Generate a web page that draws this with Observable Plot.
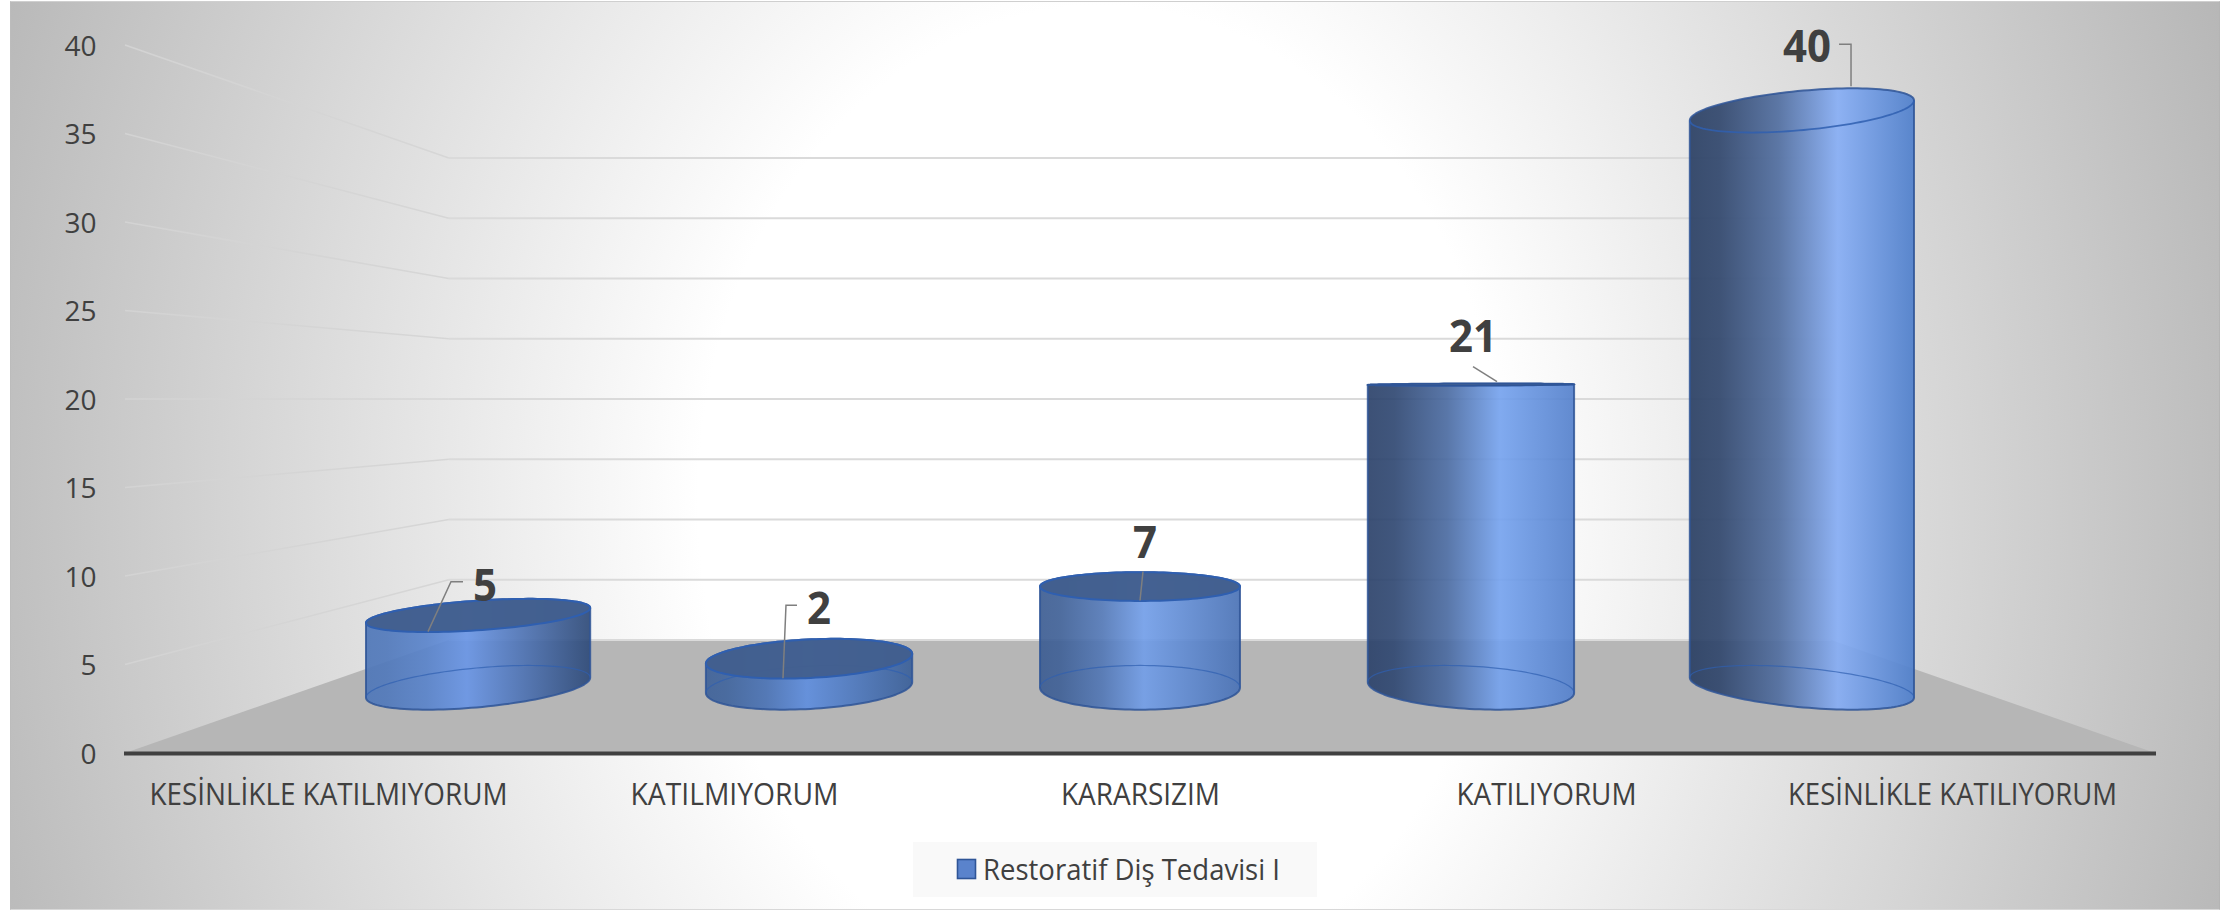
<!DOCTYPE html>
<html lang="tr">
<head>
<meta charset="utf-8">
<script src="https://cdn.jsdelivr.net/npm/d3@7"></script>
<script src="https://cdn.jsdelivr.net/npm/@observablehq/plot@0.6"></script>
<style>
html,body{margin:0;padding:0;background:#fff;overflow:hidden}
#page{position:relative;width:2234px;height:912px;background:#fff}
#bg{position:absolute;left:10px;top:1px;width:2210px;height:909px;box-sizing:border-box;border-left:1px solid #bcbcbc;border-right:1px solid #b4b4b4;border-top:1px solid #cfcfcf;border-bottom:1px solid #d8d8d8;
background:radial-gradient(ellipse 1220px 1500px at 1090px 499px,#fff 33%,#b4b4b4 100%)}
#chart{position:absolute;left:0;top:0}
#legend{position:absolute;left:0;top:835px;width:2234px;height:77px}
</style>
</head>
<body>
<div id="page"><div id="bg"></div><div id="chart"></div>
<svg id="legend" width="2234" height="77" viewBox="0 835 2234 77">
<rect x="913" y="842" width="404" height="55" fill="#f8f8f8" fill-opacity="0.85"></rect>
<rect x="957.5" y="859.5" width="18" height="19" fill="#5a83cc" stroke="#2f5597" stroke-width="1.6"></rect>
<text id="legendText" x="983" y="880" font-family="Open Sans" font-size="30" fill="#404040" textLength="297" lengthAdjust="spacingAndGlyphs"></text>
</svg>
</div>
<script>
const categories = ["KESİNLİKLE KATILMIYORUM", "KATILMIYORUM", "KARARSIZIM", "KATILIYORUM", "KESİNLİKLE KATILIYORUM"];
const values = [5, 2, 7, 21, 40];
const yTicks = [0, 5, 10, 15, 20, 25, 30, 35, 40];
const seriesName = "Restoratif Diş Tedavisi I";

// styling only: label widths, body shading and leader offsets per cylinder
const labelWidths = [358, 208, 159, 180, 329];
const shadeStops = [0.45, 0.49, 0.52, 0.64, 0.66];
const shadeLeft = ["#4f77b8", "#3f6299", "#3d5d92", "#2c426a", "#2a3f63"];
const shadeMid = ["#6a96e6", "#5f8ede", "#729ee8", "#76a3ee", "#87aef5"];
const shadeRight = ["#2e4a78", "#3a5f98", "#4a72b5", "#5581cc", "#4f7fcb"];
const labelOffsets = [[3, -29], [8, -49], [5, -44], [4, -49], [9, -66]];
const leaderOffsets = [
  [[-19, -32.5], [-31, -32.5], [-54, 17.5]],
  [[-14, -52], [-25, -52], [-28, 21]],
  [[3, -14], [0, 15]],
  [[4, -18], [28, -3]],
  [[41, -68], [53, -68], [53, -26]]
];

const rows = categories.map((category, i) => ({category, value: values[i], i}));

// perspective set-up shared by all layers
const eyeLevel = 20, backScale = 0.681, depthA = 1.234, depthB = 0.0945, radiusShare = 0.303;
function view(scales) {
  const x0 = scales.x(categories[0]);
  const band = scales.x(categories[1]) - x0;
  const left = x0, right = x0 + band * categories.length;
  const vx = (left + right) / 2, vy = scales.y(eyeLevel);
  const at = (fx, v, s) => [vx + (fx - vx) * s, vy + (scales.y(v) - vy) * s];
  return {band, left, right, vx, vy, at};
}
const line = d3.line();

function wallsAndFloor(index, scales) {
  const {left, right, at} = view(scales);
  const g = d3.create("svg:g");
  const bl = at(left, 0, backScale), br = at(right, 0, backScale);
  const grad = g.append("defs").append("linearGradient")
    .attr("id", "sideFade").attr("gradientUnits", "userSpaceOnUse")
    .attr("x1", left).attr("x2", bl[0]).attr("y1", 0).attr("y2", 0);
  grad.append("stop").attr("offset", 0).attr("stop-color", "#d3d3d3");
  grad.append("stop").attr("offset", 1).attr("stop-color", "#d6d6d6");
  g.append("path")
    .attr("d", line([at(left, 0, 1), at(right, 0, 1), br, bl]) + "Z")
    .attr("fill", "#b6b6b6");
  for (const v of yTicks) {
    const a = at(left, v, backScale), b = at(right, v, backScale);
    g.append("path").attr("d", line([a, b])).attr("stroke", "#dadada").attr("stroke-width", 2).attr("fill", "none");
    if (v > 0) g.append("path").attr("d", line([at(left, v, 1), a])).attr("stroke", "url(#sideFade)").attr("stroke-width", 1.6).attr("fill", "none");
  }
  return g.node();
}

function cylinders(index, scales) {
  const {band, vx, vy} = view(scales);
  const R = band * radiusShare;
  const g = d3.create("svg:g");
  const defs = g.append("defs");
  for (const k of index) {
    const d = rows[k];
    const wx = scales.x(d.category) + band / 2 - vx;
    const s = (t) => 1 / (depthA + depthB * Math.sin(t));
    const point = (t, v) => [vx + (wx + R * Math.cos(t)) * s(t), vy + (scales.y(v) - vy) * s(t)];
    // find silhouette parameters
    const N = 360;
    let tL = 0, tR = 0, minX = Infinity, maxX = -Infinity;
    for (let n = 0; n < N; ++n) {
      const t = n / N * 2 * Math.PI, px = point(t, 0)[0];
      if (px < minX) { minX = px; tL = t; }
      if (px > maxX) { maxX = px; tR = t; }
    }
    const arc = (t0, t1, v) => d3.range(0, 65).map((n) => point(t0 + (t1 - t0) * n / 64, v));
    const tRb = tR > Math.PI ? tR - 2 * Math.PI : tR;  // right end for the back arc (from tRb up to tL)
    const tRf = tRb + 2 * Math.PI;                     // right end for the front arc (from tL up to tRf)
    const frontB = arc(tL, tRf, 0);
    const capOuter = d.value < eyeLevel ? arc(tRb, tL, d.value) : arc(tRf, tL, d.value);
    const id = "body" + k;
    const lg = defs.append("linearGradient").attr("id", id).attr("gradientUnits", "userSpaceOnUse")
      .attr("x1", minX).attr("x2", maxX).attr("y1", 0).attr("y2", 0);
    const mix = d3.interpolateRgb(shadeLeft[k], shadeMid[k]);
    const stops = [[0, shadeLeft[k]], [shadeStops[k] * 0.2, mix(0.06)], [shadeStops[k] * 0.6, mix(0.42)], [shadeStops[k], shadeMid[k]], [1, shadeRight[k]]];
    for (const [o, c] of stops) lg.append("stop").attr("offset", o).attr("stop-color", c);
    // body
    g.append("path").attr("d", line([...frontB, ...capOuter]) + "Z")
      .attr("fill", `url(#${id})`).attr("fill-opacity", 0.92)
      .attr("stroke", "#2f5597").attr("stroke-width", 2).attr("stroke-opacity", 0.85).attr("stroke-linejoin", "round");
    // hidden back of the base ellipse, seen through the body
    g.append("path").attr("d", line(arc(tRb, tL, 0))).attr("fill", "none").attr("stroke", "#2f5fb0").attr("stroke-opacity", 0.7).attr("stroke-width", 1.2);
    // cap
    const cap = line([...arc(tL, tRf, d.value), ...arc(tRb, tL, d.value)]) + "Z";
    if (d.value < eyeLevel) {
      g.append("path").attr("d", cap).attr("fill", "#425f8e").attr("fill-opacity", 0.97).attr("stroke", "#2f5fb0").attr("stroke-width", 2);
    } else {
      g.append("path").attr("d", line(arc(tRb, tL, d.value)))
        .attr("fill", "none").attr("stroke", "#2f5fb0").attr("stroke-opacity", 0.85).attr("stroke-width", 1.8);
      if (d.value <= eyeLevel + 2) g.append("path").attr("d", cap).attr("fill", "#425f8e").attr("fill-opacity", 0.9).attr("stroke", "#2f5597").attr("stroke-width", 1.5);
    }
    // value label + leader
    const cx = vx + wx / depthA, cy = vy + (scales.y(d.value) - vy) / depthA;
    g.append("path").attr("d", line(leaderOffsets[k].map(([a, b]) => [cx + a, cy + b])))
      .attr("fill", "none").attr("stroke", "#7f7f7f").attr("stroke-width", 1.5);
    const label = String(d.value);
    g.append("text").attr("x", cx + labelOffsets[k][0]).attr("y", cy + labelOffsets[k][1]).attr("dy", "0.36em")
      .attr("text-anchor", "middle").attr("font-weight", 700).attr("font-size", 45).attr("fill", "#404040")
      .attr("textLength", label.length * 24).attr("lengthAdjust", "spacingAndGlyphs")
      .text(label);
  }
  return g.node();
}

const chart = Plot.plot({
  width: 2234,
  height: 835,
  marginLeft: 124,
  marginRight: 78,
  marginTop: 45,
  marginBottom: 82,
  style: {fontFamily: "Open Sans", background: "transparent", color: "#404040"},
  x: {type: "band", domain: categories, padding: 0, label: null},
  y: {type: "linear", domain: [0, 40], label: null},
  marks: [
    Plot.ruleY(yTicks, {render: wallsAndFloor}),
    Plot.barY(rows, {x: "category", y: "value", render: cylinders}),
    Plot.ruleY([0], {stroke: "#404040", strokeWidth: 4}),
    Plot.axisY({ticks: yTicks, tickSize: 0, tickPadding: 28, fontSize: 28, dy: 1.5, label: null, tickFormat: (d) => String(d)}),
    Plot.axisX({tickSize: 0, tickPadding: 29, fontSize: 31, label: null})
  ]
});
document.getElementById("chart").appendChild(chart);
chart.querySelectorAll('[aria-label="x-axis tick label"] text').forEach((t, i) => {
  t.setAttribute("textLength", labelWidths[i]);
  t.setAttribute("lengthAdjust", "spacingAndGlyphs");
});
document.getElementById("legendText").textContent = seriesName;
</script>
</body>
</html>
